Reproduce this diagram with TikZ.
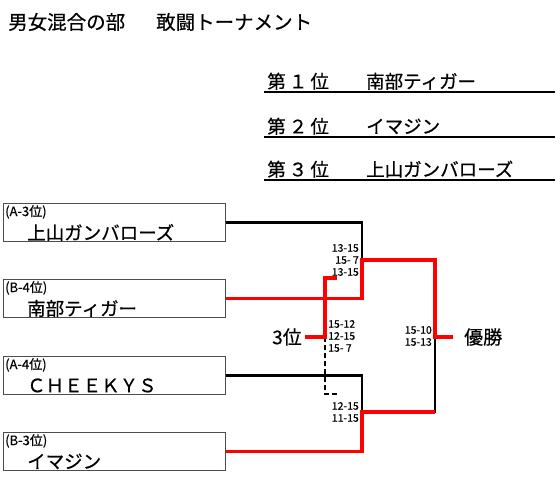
\documentclass[tikz,border=0pt]{standalone}
\usepackage{fontspec}
\setmainfont{Noto Sans CJK JP}[FakeBold=0.5]
\usetikzlibrary{positioning}

\begin{document}
\begin{tikzpicture}[
  x=1pt, y=-1pt,
  font=\fontsize{18.5}{20}\selectfont,
  team/.style={draw=gray!60!black, line width=0.9pt, minimum width=222pt, minimum height=38pt, anchor=north west, inner sep=0pt},
  seed/.style={font=\fontsize{13}{14}\selectfont, inner sep=1pt, anchor=north west},
  teamname/.style={font=\fontsize{18.5}{20}\selectfont, inner sep=0pt, anchor=west},
  big/.style={font=\fontsize{19}{21}\selectfont, inner ysep=0pt},
  score/.style={font=\fontsize{10.5}{12}\selectfont, inner sep=1pt},
  rankrow/.style={anchor=south west, text width=291pt, inner xsep=0pt, inner ysep=2pt, align=left},
  loser/.style={line width=2.6pt},
  winner/.style={red, line width=3.6pt},
  thirdline/.style={line width=2.6pt, dash pattern=on 5pt off 3pt},
]
\useasboundingbox (0,0) rectangle (560,489);

% -- Title --
\node[anchor=west, inner sep=0pt, font=\fontsize{19.5}{21}\selectfont] (title) at (8,22) {男女混合の部\hspace{31pt}敢闘トーナメント};

% -- Ranking --
\node[rankrow] (r1) at (264,92) {\makebox[102pt][l]{\,第\,１\,位}南部ティガー};
\node[rankrow] (r2) at (264,137) {\makebox[102pt][l]{\,第\,２\,位}イマジン};
\node[rankrow] (r3) at (264,180) {\makebox[102pt][l]{\,第\,３\,位}上山ガンバローズ};
\draw[line width=1.6pt] (r1.south west) -- (r1.south east);
\draw[line width=1.6pt] (r2.south west) -- (r2.south east);
\draw[line width=1.6pt] (r3.south west) -- (r3.south east);

% -- Teams --
\node[team] (a3) at (3,203) {};
\node[seed] (a3s) at ([shift={(1pt,-1pt)}]a3.north west) {(A-3位)};
\node[teamname] (a3n) at ([shift={(24pt,-10pt)}]a3.west) {上山ガンバローズ};

\node[team] (b4) at (3,279) {};
\node[seed] (b4s) at ([shift={(1pt,-1pt)}]b4.north west) {(B-4位)};
\node[teamname] (b4n) at ([shift={(24pt,-10pt)}]b4.west) {南部ティガー};

\node[team] (a4) at (3,356) {};
\node[seed] (a4s) at ([shift={(1pt,-1pt)}]a4.north west) {(A-4位)};
\node[teamname] (a4n) at ([shift={(24pt,-10pt)}]a4.west) {ＣＨＥＥＫＹＳ};

\node[team] (b3) at (3,432) {};
\node[seed] (b3s) at ([shift={(1pt,-1pt)}]b3.north west) {(B-3位)};
\node[teamname] (b3n) at ([shift={(24pt,-10pt)}]b3.west) {イマジン};

% -- Bracket points --
\coordinate (sf1) at (362,260);
\coordinate (sf2) at (362,412);
\coordinate (fin) at (435,337);
\coordinate (tp) at (325,337);
\coordinate (tpa) at (337,278);
\coordinate (tpb) at (338,394);

\node[big, anchor=west, inner xsep=11pt] (win) at (453,337) {優勝};
\node[big, anchor=east, inner xsep=3pt] (third) at (305,337) {3位};

% -- Scores --
\node[score, anchor=east, align=right] (sc1) at (360,260) {13-15\\15- 7\\13-15};
\node[score, anchor=west, align=left] (sc2) at (327,336) {15-12\\12-15\\15- 7};
\node[score, anchor=east, align=right] (sc3) at (433,336) {15-10\\15-13};
\node[score, anchor=east, align=right] (sc4) at (360,412) {12-15\\11-15};

% -- Lines --
\draw[loser] (a3.east) -| (sf1);
\draw[loser] (a4.east) -| (sf2);
\draw[loser] (fin) |- (sf2);
\draw[thirdline] (tp) |- (tpb);
\draw[winner] (b4.east) -| (sf1) -| (fin) -- (win.west);
\draw[winner] (b3.east) -| (sf2) -- (sf2 -| fin);
\draw[winner] (tpa) -| (tp) -- (third.east);

\end{tikzpicture}
\end{document}
